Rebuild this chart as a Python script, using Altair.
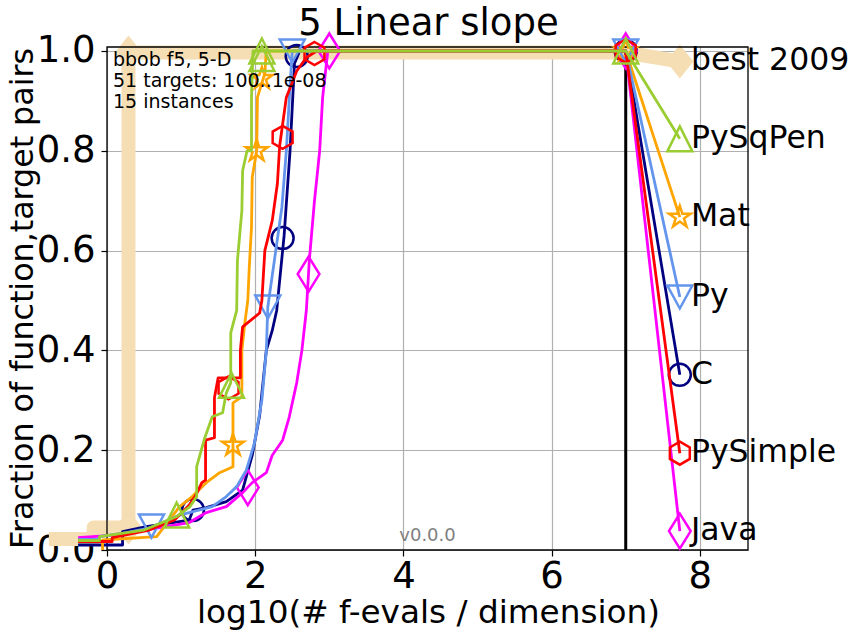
import math
import altair as alt
import pandas as pd

# ---------------- data ----------------
algs = ["C", "Java", "Mat", "Py", "PySimple", "PySqPen"]
colors = ["#000080", "#FF00FF", "#FFA500", "#6495ED", "#FF0000", "#9ACD32"]

C_x = [-0.39, 0.21, 0.21, 0.53, 1.11, 1.16, 1.34, 1.61, 1.83, 1.96, 2.06, 2.15, 2.23, 2.29, 2.39, 2.47, 2.53, 2.60, 7.0, 7.73]
C_y = [0.010, 0.010, 0.037, 0.047, 0.060, 0.080, 0.085, 0.097, 0.120, 0.190, 0.270, 0.400, 0.440, 0.480, 0.630, 0.800, 0.975, 1.0, 1.0, 0.351]
C_mx = [1.16, 2.37, 2.56, 7.0, 7.73]
C_my = [0.080, 0.625, 0.990, 1.0, 0.351]

J_x = [-0.39, 0.10, 0.71, 1.11, 1.34, 1.61, 1.83, 1.96, 2.15, 2.23, 2.37, 2.46, 2.56, 2.63, 2.69, 2.73, 2.80, 2.87, 2.91, 2.98, 7.0, 7.73]
J_y = [0.025, 0.030, 0.045, 0.055, 0.075, 0.087, 0.115, 0.135, 0.155, 0.190, 0.220, 0.267, 0.335, 0.400, 0.480, 0.580, 0.700, 0.800, 0.907, 1.0, 1.0, 0.038]
J_mx = [1.90, 2.72, 3.00, 7.0, 7.73]
J_my = [0.125, 0.553, 1.0, 1.0, 0.038]

M_x = [-0.06, -0.06, 0.67, 0.98, 1.15, 1.34, 1.52, 1.70, 1.70, 1.82, 1.82, 1.86, 1.90, 1.92, 1.95, 1.96, 2.02, 2.03, 2.13, 2.15, 7.0, 7.73]
M_y = [0.000, 0.020, 0.027, 0.087, 0.107, 0.135, 0.155, 0.167, 0.295, 0.307, 0.400, 0.455, 0.500, 0.567, 0.647, 0.747, 0.800, 0.907, 0.955, 1.0, 1.0, 0.667]
M_mx = [1.70, 2.02, 2.09, 7.0, 7.73]
M_my = [0.210, 0.800, 0.945, 1.0, 0.667]

P_x = [-0.39, -0.10, -0.10, 0.26, 0.60, 0.98, 1.42, 1.61, 1.75, 1.88, 1.99, 2.09, 2.15, 2.17, 2.36, 2.42, 2.47, 2.50, 7.0, 7.73]
P_y = [0.021, 0.021, 0.027, 0.035, 0.045, 0.070, 0.087, 0.107, 0.127, 0.160, 0.214, 0.300, 0.400, 0.487, 0.687, 0.800, 0.930, 1.0, 1.0, 0.507]
P_mx = [0.60, 2.17, 2.50, 7.0, 7.73]
P_my = [0.048, 0.487, 1.0, 1.0, 0.507]

R_x = [-0.39, 0.07, 0.07, 0.57, 0.91, 1.11, 1.20, 1.28, 1.33, 1.33, 1.45, 1.45, 1.50, 1.80, 1.80, 1.83, 2.06, 2.09, 2.13, 2.23, 2.30, 2.33, 2.42, 2.56, 2.69, 2.83, 7.0, 7.73]
R_y = [0.017, 0.017, 0.025, 0.040, 0.060, 0.090, 0.110, 0.135, 0.140, 0.220, 0.225, 0.305, 0.345, 0.345, 0.400, 0.447, 0.475, 0.500, 0.600, 0.660, 0.735, 0.810, 0.907, 0.960, 0.987, 1.0, 1.0, 0.194]
R_mx = [1.64, 2.37, 2.80, 7.0, 7.73]
R_my = [0.325, 0.827, 0.995, 1.0, 0.194]

G_x = [-0.39, -0.10, -0.10, 0.50, 0.94, 1.12, 1.21, 1.21, 1.32, 1.42, 1.56, 1.61, 1.67, 1.67, 1.75, 1.76, 1.82, 1.83, 1.89, 1.95, 1.95, 1.97, 7.0, 7.73]
G_y = [0.019, 0.019, 0.027, 0.040, 0.067, 0.087, 0.107, 0.167, 0.225, 0.267, 0.275, 0.315, 0.335, 0.435, 0.480, 0.580, 0.680, 0.760, 0.800, 0.800, 0.907, 1.0, 1.0, 0.824]
G_mx = [0.94, 1.68, 2.09, 2.09, 7.0, 7.73]
G_my = [0.070, 0.330, 1.0, 0.985, 1.0, 0.824]

B_x = [-0.69, -0.18, -0.18, 0.29, 0.29, 7.0, 7.73]
B_y = [0.022, 0.022, 0.045, 0.045, 0.997, 0.997, 0.979]
B_mx = [0.29, 0.29, 7.73]
B_my = [0.045, 0.997, 0.979]

label_names = ["best 2009", "PySqPen", "Mat", "Py", "C", "PySimple", "Java"]
label_y = [0.979, 0.824, 0.667, 0.507, 0.351, 0.194, 0.038]

x_ticks = [0, 2, 4, 6, 8]
y_ticks = [0.0, 0.2, 0.4, 0.6, 0.8, 1.0]

# ---------------- marker shapes ----------------
star_pts = []
for k in range(10):
    r = 1.0 if k % 2 == 0 else 0.38
    a = math.radians(k * 36)
    star_pts.append((r * math.sin(a), -r * math.cos(a)))
STAR = "M" + "L".join(f"{px:.3f},{py:.3f}" for px, py in star_pts) + "Z"
HEX = "M0,-1L0.866,-0.5L0.866,0.5L0,1L-0.866,0.5L-0.866,-0.5Z"
TRI_UP = "M0,-1L1,1L-1,1Z"
TRI_DOWN = "M-1,-0.92L1,-0.92L0,0.92Z"
THIN_DIAMOND = "M0,-1L0.62,0L0,1L-0.62,0Z"
BIG_DIAMOND = "M0,-1L0.8,0L0,1L-0.8,0Z"

series = [
    ("C", C_x, C_y, C_mx, C_my, "circle", 484),
    ("Java", J_x, J_y, J_mx, J_my, THIN_DIAMOND, 1225),
    ("Mat", M_x, M_y, M_mx, M_my, STAR, 520),
    ("Py", P_x, P_y, P_mx, P_my, TRI_DOWN, 625),
    ("PySimple", R_x, R_y, R_mx, R_my, HEX, 529),
    ("PySqPen", G_x, G_y, G_mx, G_my, TRI_UP, 625),
]
color_of = dict(zip(algs, colors))

W, H = 641, 503
FONT = "DejaVu Sans"

xscale = alt.Scale(domain=[0, 8.65], nice=False, zero=False)
yscale = alt.Scale(domain=[0, 1.008], nice=False, zero=False)
xaxis = alt.Axis(values=x_ticks, grid=True, gridColor="#b0b0b0", gridWidth=1.2,
                 domain=False, tickColor="black", tickSize=6, tickWidth=1.2,
                 labelFont=FONT, labelFontSize=37, labelColor="black",
                 labelBaseline="alphabetic", labelPadding=31, format="d",
                 title=None, labelFlush=False, labelOverlap=False)
yaxis = alt.Axis(values=y_ticks, grid=True, gridColor="#b0b0b0", gridWidth=1.2,
                 domain=False, tickColor="black", tickSize=6, tickWidth=1.2,
                 labelFont=FONT, labelFontSize=37, labelColor="black",
                 labelPadding=6, format=".1f", title=None,
                 labelFlush=False, labelOverlap=False)


def X(f="x"):
    return alt.X(f"{f}:Q", scale=xscale, axis=xaxis)


def Y(f="y"):
    return alt.Y(f"{f}:Q", scale=yscale, axis=yaxis)


one = pd.DataFrame({"k": [0]})
layers = []

# best 2009 (wide wheat line)
bdf = pd.DataFrame({"x": B_x, "y": B_y, "i": range(len(B_x))})
layers.append(alt.Chart(bdf).mark_line(color="#F5DEB3", strokeWidth=14,
                                       strokeJoin="round", strokeCap="square")
              .encode(x=X(), y=Y(), order="i:Q"))
bmdf = pd.DataFrame({"x": B_mx, "y": B_my})
layers.append(alt.Chart(bmdf).mark_point(shape=BIG_DIAMOND, size=1156, filled=True,
                                         color="#F5DEB3", opacity=1)
              .encode(x=X(), y=Y()))

# frame
layers.append(alt.Chart(one).mark_rect(filled=False, stroke="black", strokeWidth=1.3)
              .encode(x=alt.value(0), x2=alt.value(W), y=alt.value(0), y2=alt.value(H)))

# vertical budget line at x = 7
layers.append(alt.Chart(pd.DataFrame({"x": [7.0], "y": [0.0], "y2": [1.0]}))
              .mark_rule(color="black", strokeWidth=3)
              .encode(x=X(), y=Y(), y2="y2:Q"))

for name, xs, ys, mxs, mys, shape, size in series:
    c = color_of[name]
    ldf = pd.DataFrame({"x": xs, "y": ys, "i": range(len(xs))})
    layers.append(alt.Chart(ldf).mark_line(color=c, strokeWidth=2.8, strokeJoin="round")
                  .encode(x=X(), y=Y(), order="i:Q"))
    mdf = pd.DataFrame({"x": mxs, "y": mys})
    layers.append(alt.Chart(mdf).mark_point(shape=shape, size=size, filled=False,
                                            color=c, strokeWidth=2.5, opacity=1)
                  .encode(x=X(), y=Y()))

# right-hand labels
ldf = pd.DataFrame({"label": label_names, "y": label_y})
layers.append(alt.Chart(ldf).mark_text(align="left", baseline="middle", font=FONT,
                                       fontSize=31.5, color="black")
              .encode(x=alt.datum(7.88, scale=xscale), y=Y(), text="label:N"))

# annotations
ann = [("bbob f5, 5-D", 19), ("51 targets: 100..1e-08", 40), ("15 instances", 61)]
for txt, yy in ann:
    layers.append(alt.Chart(one).mark_text(text=txt, align="left", baseline="alphabetic",
                                           font=FONT, fontSize=19, color="black")
                  .encode(x=alt.value(6), y=alt.value(yy)))

layers.append(alt.Chart(one).mark_text(text="v0.0.0", align="center", baseline="alphabetic",
                                       font=FONT, fontSize=18, color="#808080")
              .encode(x=alt.value(W / 2), y=alt.value(494)))

# title and axis titles
layers.append(alt.Chart(one).mark_text(text="5 Linear slope", align="center",
                                       baseline="alphabetic", font=FONT, fontSize=37,
                                       color="black")
              .encode(x=alt.value(W / 2 + 1), y=alt.value(-12)))
layers.append(alt.Chart(one).mark_text(text="log10(# f-evals / dimension)", align="center",
                                       baseline="alphabetic", font=FONT, fontSize=32.7,
                                       color="black")
              .encode(x=alt.value(W / 2 + 1), y=alt.value(576)))
layers.append(alt.Chart(one).mark_text(text="Fraction of function,target pairs",
                                       align="center", baseline="alphabetic", angle=270,
                                       font=FONT, fontSize=31.7, color="black")
              .encode(x=alt.value(-74), y=alt.value(H / 2)))

chart = alt.layer(*layers).properties(
    width=W, height=H,
    autosize=alt.AutoSizeParams(type="none"),
    padding={"left": 107, "top": 47, "right": 104, "bottom": 82},
    background="white",
).configure_view(stroke=None)

chart.save("out.html", embed_options={"renderer": "svg", "actions": False})
